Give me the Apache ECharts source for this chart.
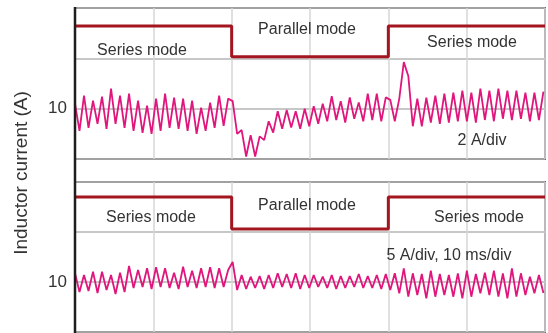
<!DOCTYPE html>
<html>
<head>
<meta charset="utf-8">
<script src="https://cdn.jsdelivr.net/npm/echarts@6/dist/echarts.min.js"></script>
<style>
  html, body { margin: 0; padding: 0; background: #fff; }
  #chart { width: 548px; height: 333px; }
</style>
</head>
<body>
<div id="chart"></div>
<script>
// Oscilloscope capture: inductor current while switching series / parallel mode.
// Samples are taken every half ripple period (peaks and valleys).
const SAMPLE_MS = 0.575;
const TIME_SPAN_MS = [0, 60];
const TIME_DIV_MS = 10;

// Upper trace, 2 A/div
const upperCurrentA = [
  10.2, 9.12, 10.52, 9.24, 10.32, 9.4, 10.48, 9.2, 10.8, 9.4, 10.52, 9.24,
  10.6, 9.12, 10.32, 9.04, 10.12, 9.0, 10.4, 9.12, 10.6, 9.24, 10.44, 9.2,
  10.4, 9.12, 10.32, 9.0, 10.04, 9.12, 10.24, 9.24, 10.52, 9.32, 10.4,
  10.3, 9.0, 9.15, 8.1, 8.95, 8.1, 8.9, 8.75, 9.5, 9.05, 9.9, 9.2, 9.95,
  9.25, 9.9, 9.2, 10.0, 9.3, 10.1, 9.4, 10.2, 9.5, 10.5, 9.55, 10.3, 9.45,
  10.45, 9.6, 10.25, 9.5, 10.6, 9.55, 10.6, 9.5, 10.45, 10.35, 9.5, 10.4,
  11.85, 11.3, 9.3,
  10.4, 9.3, 10.44, 9.45, 10.52, 9.4, 10.6, 9.45, 10.64, 9.5, 10.72, 9.5,
  10.64, 9.45, 10.8, 9.55, 10.72, 9.5, 10.8, 9.6, 10.72, 9.55, 10.72, 9.6,
  10.64, 9.5, 10.64, 9.55, 10.68
];

// Lower trace, 5 A/div
const lowerCurrentA = [
  10.87, 9.0, 10.7, 9.1, 11.03, 8.9, 11.03, 9.2, 10.7, 8.8, 10.93, 9.0,
  11.6, 9.4, 11.2, 9.5, 11.37, 9.3, 11.47, 9.5, 11.37, 9.4, 10.93, 9.3,
  11.53, 9.5, 11.13, 9.4, 11.37, 9.5, 11.47, 9.4, 11.37, 9.5, 11.2,
  12.0,
  9.2, 10.7, 9.3, 10.53, 9.4, 10.6, 9.3, 10.7, 9.4, 10.87, 9.5, 10.8,
  9.4, 10.87, 9.3, 10.7, 9.4, 10.7, 9.5, 10.53, 9.4, 10.7, 9.3, 10.6,
  9.4, 10.6, 9.5, 10.8, 9.4, 10.6, 9.4, 10.7, 9.3, 10.8, 9.2,
  10.87, 8.87, 11.37, 8.53, 10.87, 8.7, 10.8, 8.37, 11.13, 8.53, 10.8, 8.7,
  10.7, 8.53, 10.87, 8.37, 11.13, 8.53, 10.8, 8.87, 10.93, 8.7, 11.13, 8.53,
  10.87, 8.37, 11.37, 8.53, 10.87, 8.7, 10.53, 8.87, 10.7, 8.9
];

// Mode indicator (high = series, low = parallel)
const modeTimesMs = [0, 20, 20, 40, 40, 60];
const upperModeLevel = [13.28, 13.28, 12.06, 12.06, 13.28, 13.28];
const lowerModeLevel = [18.5, 18.5, 15.3, 15.3, 18.5, 18.5];

// Vertical scales of both panels
const upperRangeA = [8, 14, 2];
const lowerRangeA = [5, 20, 5];
const shownTicksA = [10];

const modeNames = ['Series mode', 'Parallel mode', 'Series mode'];
const scaleNotes = ['2 A/div', '5 A/div, 10 ms/div'];
const axisTitle = 'Inductor current (A)';

const FONT = 'Liberation Sans, Arial, Helvetica, sans-serif';
const TRACE = '#e0167c';
const MODE = '#a3151f';

const toPoints = vals => vals.map((v, i) => [i * SAMPLE_MS, v]);
const zipPoints = (xs, ys) => xs.map((x, i) => [x, ys[i]]);

function xAxisFor(gridIndex) {
  return {
    type: 'value', gridIndex,
    min: TIME_SPAN_MS[0], max: TIME_SPAN_MS[1], interval: TIME_DIV_MS,
    axisLine: { show: false }, axisTick: { show: false }, axisLabel: { show: false },
    splitLine: { show: true, lineStyle: { color: '#d6d6d6', width: 1.5 } }
  };
}
function yAxisFor(gridIndex, range) {
  return {
    type: 'value', gridIndex,
    min: range[0], max: range[1], interval: range[2],
    axisLine: { show: false }, axisTick: { show: false },
    axisLabel: {
      margin: 8, color: '#333', fontSize: 17, fontFamily: FONT,
      formatter: v => (shownTicksA.includes(v) ? String(v) : '')
    },
    splitLine: { show: true, lineStyle: { color: '#b4b4b4', width: 1.5 } }
  };
}
function traceSeries(idx, vals) {
  return {
    type: 'line', xAxisIndex: idx, yAxisIndex: idx,
    data: toPoints(vals), symbol: 'none', animation: false,
    lineStyle: { color: TRACE, width: 1.8 }, z: 3
  };
}
function modeSeries(idx, levels) {
  return {
    type: 'line', xAxisIndex: idx, yAxisIndex: idx,
    data: zipPoints(modeTimesMs, levels), symbol: 'none', animation: false,
    lineStyle: { color: MODE, width: 3 }, z: 4
  };
}
function label(text, x, y, extra) {
  return Object.assign({
    type: 'text', x, y, z: 10,
    style: { text, font: '16px ' + FONT, fill: '#333', align: 'center', verticalAlign: 'middle' }
  }, extra || {});
}

const chart = echarts.init(document.getElementById('chart'), null, { renderer: 'canvas' });
chart.setOption({
  backgroundColor: '#fff',
  animation: false,
  grid: [
    { left: 75, top: 8, width: 470, height: 151, show: true, borderColor: '#6a6a6a', borderWidth: 2 },
    { left: 75, top: 182, width: 470, height: 150, show: true, borderColor: '#6a6a6a', borderWidth: 2 }
  ],
  xAxis: [xAxisFor(0), xAxisFor(1)],
  yAxis: [yAxisFor(0, upperRangeA), yAxisFor(1, lowerRangeA)],
  series: [
    traceSeries(0, upperCurrentA),
    modeSeries(0, upperModeLevel),
    traceSeries(1, lowerCurrentA),
    modeSeries(1, lowerModeLevel)
  ],
  graphic: [
    { type: 'line', z: 20, shape: { x1: 75, y1: 7, x2: 75, y2: 333 }, style: { stroke: '#1e1e1e', lineWidth: 2.5 } },
    label(modeNames[0], 142, 51),
    label(modeNames[1], 307, 30),
    label(modeNames[2], 472, 43),
    label(scaleNotes[0], 482, 141),
    label(modeNames[0], 151, 218),
    label(modeNames[1], 307, 206),
    label(modeNames[2], 479, 218),
    label(scaleNotes[1], 449, 256),
    {
      type: 'text', x: 22, y: 173, rotation: Math.PI / 2, z: 10,
      style: { text: axisTitle, font: '19px ' + FONT, fill: '#333', align: 'center', verticalAlign: 'middle' }
    }
  ]
});
</script>
</body>
</html>
